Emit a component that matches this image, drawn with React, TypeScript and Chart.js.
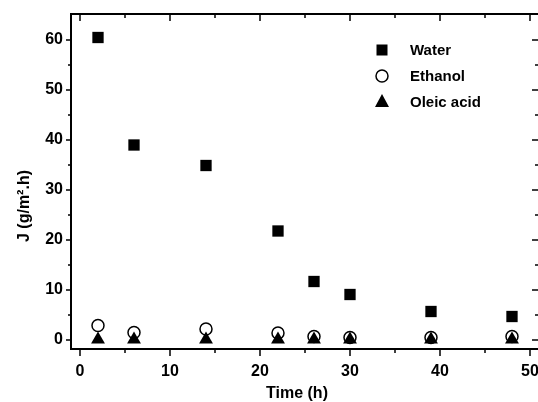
import React, { useEffect, useRef } from "react";
import { Chart, registerables } from "chart.js";

Chart.register(...registerables);

const timeHours = [2, 6, 14, 22, 26, 30, 39, 48];
const waterFlux = [60.5, 39.0, 34.9, 21.8, 11.7, 9.1, 5.7, 4.7];
const ethanolFlux = [2.9, 1.5, 2.2, 1.4, 0.7, 0.5, 0.5, 0.7];
const oleicFlux = [0.1, 0.1, 0.1, 0.1, 0.1, 0.1, 0.1, 0.1];

const xTickValues = [0, 10, 20, 30, 40, 50];
const yTickValues = [0, 10, 20, 30, 40, 50, 60];
const xMinorValues = [5, 15, 25, 35, 45];
const yMinorValues = [5, 15, 25, 35, 45, 55];

const seriesNames = ["Water", "Ethanol", "Oleic acid"];
const xTitle = "Time (h)";
const yTitle = "J (g/m\u00B2.h)";

const FONT = "'Liberation Sans', Arial, sans-serif";

const framePlugin = {
  id: "frame",
  beforeDatasetsDraw(chart: any) {
    const { ctx, chartArea } = chart;
    const xs = chart.scales.x;
    const ys = chart.scales.y;
    const { left, right, top, bottom } = chartArea;
    ctx.save();
    ctx.strokeStyle = "#000";
    ctx.lineWidth = 2;
    ctx.beginPath();
    ctx.moveTo(left, top);
    ctx.lineTo(right + 2, top);
    ctx.moveTo(left, top - 1);
    ctx.lineTo(left, bottom + 1);
    ctx.moveTo(left - 1, bottom);
    ctx.lineTo(right + 2, bottom);
    ctx.moveTo(right + 1, top);
    ctx.lineTo(right + 1, bottom);
    ctx.stroke();

    ctx.lineWidth = 1.5;
    ctx.beginPath();
    const vTick = (v: number, len: number) => {
      const px = Math.round(xs.getPixelForValue(v));
      ctx.moveTo(px, bottom);
      ctx.lineTo(px, bottom + len);
      ctx.moveTo(px, top);
      ctx.lineTo(px, top + len);
    };
    const hTick = (v: number, lenL: number, lenR: number) => {
      const py = Math.round(ys.getPixelForValue(v));
      ctx.moveTo(left, py);
      ctx.lineTo(left - lenL, py);
      ctx.moveTo(right, py);
      ctx.lineTo(right - lenR, py);
    };
    xTickValues.forEach((v) => vTick(v, 7));
    xMinorValues.forEach((v) => vTick(v, 4));
    yTickValues.forEach((v) => hTick(v, 5, 6));
    yMinorValues.forEach((v) => hTick(v, 3, 3));
    ctx.stroke();
    ctx.restore();
  },
  afterDraw(chart: any) {
    const { ctx } = chart;
    ctx.save();
    ctx.fillStyle = "#000";
    // axis titles
    ctx.font = `bold 16px ${FONT}`;
    ctx.textAlign = "center";
    ctx.textBaseline = "middle";
    ctx.fillText(xTitle, 297, 394);
    ctx.save();
    ctx.translate(25, 206);
    ctx.rotate(-Math.PI / 2);
    ctx.fillText(yTitle, 0, 0);
    ctx.restore();

    // legend
    const lx = 382;
    const ly = [50, 76, 102];
    ctx.font = `bold 15px ${FONT}`;
    ctx.textAlign = "left";
    seriesNames.forEach((name, i) => {
      ctx.fillText(name, 410, ly[i] + 1);
    });
    ctx.fillRect(lx - 5.5, ly[0] - 5.5, 11, 11);
    ctx.beginPath();
    ctx.arc(lx, ly[1], 6, 0, Math.PI * 2);
    ctx.fillStyle = "#fff";
    ctx.fill();
    ctx.strokeStyle = "#000";
    ctx.lineWidth = 1.5;
    ctx.stroke();
    ctx.fillStyle = "#000";
    ctx.beginPath();
    ctx.moveTo(lx, ly[2] - 8);
    ctx.lineTo(lx + 7, ly[2] + 5);
    ctx.lineTo(lx - 7, ly[2] + 5);
    ctx.closePath();
    ctx.fill();
    ctx.restore();
  },
};

export default function App() {
  const canvasRef = useRef<HTMLCanvasElement | null>(null);

  useEffect(() => {
    const canvas = canvasRef.current;
    if (!canvas) return;
    const toPoints = (ys: number[]) => timeHours.map((x, i) => ({ x, y: ys[i] }));
    const chart = new Chart(canvas, {
      type: "scatter",
      data: {
        datasets: [
          {
            label: seriesNames[0],
            data: toPoints(waterFlux),
            pointStyle: "rect",
            pointRadius: 8,
            backgroundColor: "#000",
            borderColor: "#000",
            borderWidth: 0,
            order: 2,
          },
          {
            label: seriesNames[1],
            data: toPoints(ethanolFlux),
            pointStyle: "circle",
            pointRadius: 6,
            backgroundColor: "#fff",
            borderColor: "#000",
            borderWidth: 1.5,
            order: 1,
          },
          {
            label: seriesNames[2],
            data: toPoints(oleicFlux),
            pointStyle: "triangle",
            pointRadius: 8,
            backgroundColor: "#000",
            borderColor: "#000",
            borderWidth: 0,
            order: 0,
          },
        ],
      },
      options: {
        responsive: false,
        animation: false,
        devicePixelRatio: 1,
        layout: { autoPadding: false, padding: { top: 14, left: 0, right: 0, bottom: 0 } },
        plugins: { legend: { display: false }, tooltip: { enabled: false } },
        scales: {
          x: {
            type: "linear",
            min: -1,
            max: 50.89,
            afterBuildTicks: (s: any) => {
              s.ticks = xTickValues.map((v) => ({ value: v }));
            },
            afterFit: (s: any) => {
              s.height = 53;
              s.paddingLeft = 0;
              s.paddingRight = 0;
            },
            grid: { display: false, drawTicks: false },
            border: { display: false },
            ticks: {
              padding: 13,
              color: "#000",
              font: { family: FONT, size: 16, weight: "bold" },
              maxRotation: 0,
              autoSkip: false,
            },
          },
          y: {
            type: "linear",
            min: -1.8,
            max: 65.2,
            afterBuildTicks: (s: any) => {
              s.ticks = yTickValues.map((v) => ({ value: v }));
            },
            afterFit: (s: any) => {
              s.width = 71;
              s.paddingTop = 0;
              s.paddingBottom = 0;
            },
            grid: { display: false, drawTicks: false },
            border: { display: false },
            ticks: {
              padding: 8,
              color: "#000",
              font: { family: FONT, size: 16, weight: "bold" },
              autoSkip: false,
            },
          },
        },
      },
      plugins: [framePlugin],
    } as any);
    return () => chart.destroy();
  }, []);

  return (
    <div style={{ position: "absolute", left: 0, top: 0, width: 538, height: 402, background: "#fff" }}>
      <canvas ref={canvasRef} width={538} height={402} style={{ width: 538, height: 402, display: "block" }} />
    </div>
  );
}
